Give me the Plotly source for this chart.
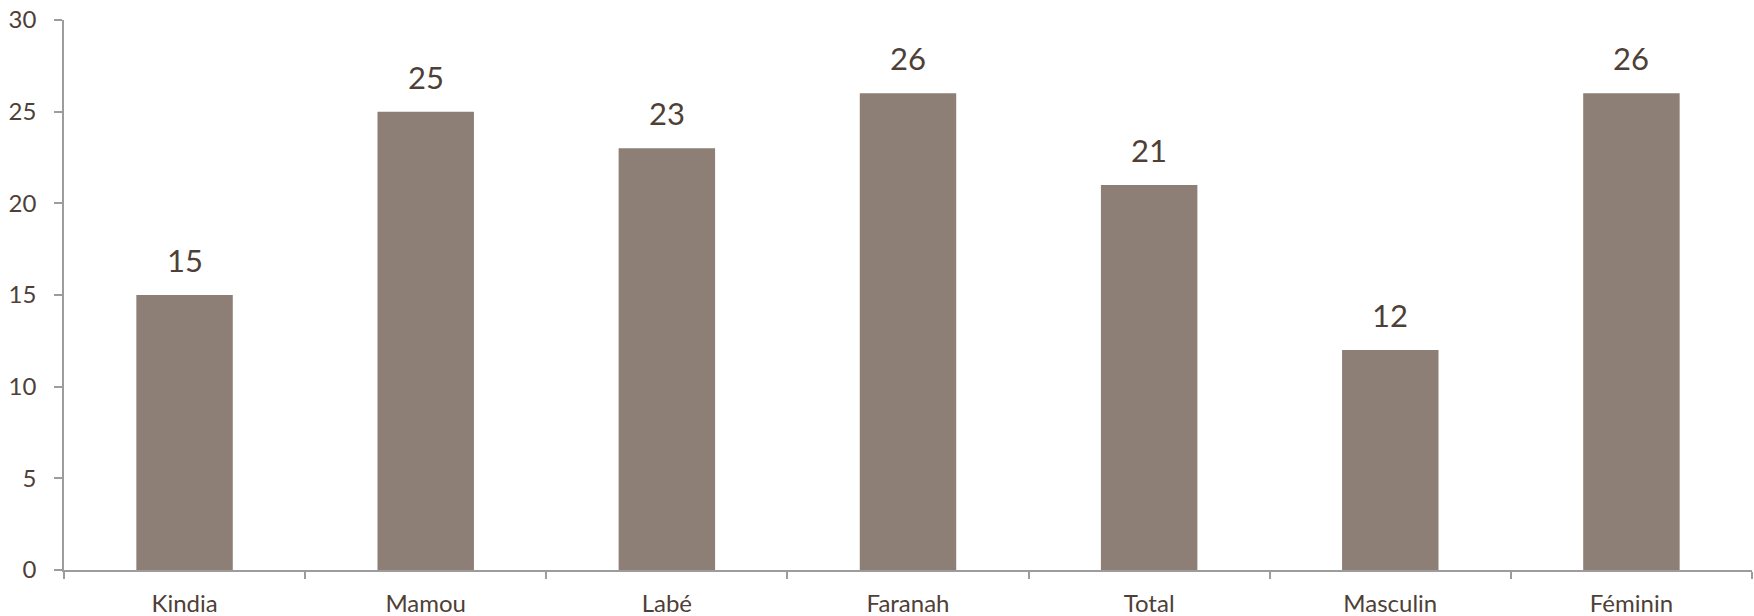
import plotly.graph_objects as go

categories = ["Kindia", "Mamou", "Labé", "Faranah", "Total", "Masculin", "Féminin"]
values = [15, 25, 23, 26, 21, 12, 26]
y_ticks = [0, 5, 10, 15, 20, 25, 30]

BAR = "#8E7F76"
TXT = "#4E3F37"
AX = "#9C9C9C"
FONT = "Lato"

fig = go.Figure()
fig.add_trace(go.Bar(x=categories, y=values, marker=dict(color=BAR, line=dict(width=0)),
                     hoverinfo="skip"))

for c, v in zip(categories, values):
    fig.add_annotation(x=c, y=v, text=str(v), showarrow=False, yanchor="bottom",
                       yshift=14, font=dict(family=FONT, size=31, color=TXT))

fig.update_layout(
    width=1754, height=616,
    margin=dict(l=64, r=2, t=20, b=46, autoexpand=False),
    plot_bgcolor="white", paper_bgcolor="white",
    bargap=0.6, showlegend=False,
    font=dict(family=FONT, color=TXT),
)
fig.update_xaxes(
    type="category", showline=True, linecolor=AX, linewidth=1.5,
    ticks="outside", tickson="boundaries", ticklen=7, tickcolor=AX, tickwidth=1.5,
    tickfont=dict(family=FONT, size=24, color=TXT), showgrid=False,
    ticklabelstandoff=11, automargin=False,
)
fig.update_yaxes(
    range=[0, 30], tickvals=y_ticks, showline=True, linecolor=AX, linewidth=1.5,
    ticks="outside", ticklen=8, tickcolor=AX, tickwidth=1.5,
    tickfont=dict(family=FONT, size=24, color=TXT), showgrid=False, zeroline=False,
    ticklabelstandoff=13, automargin=False,
)

fig.write_html("out.html", config={"displayModeBar": False},
               post_script="document.body.style.margin='0';document.body.style.overflow='hidden';")
